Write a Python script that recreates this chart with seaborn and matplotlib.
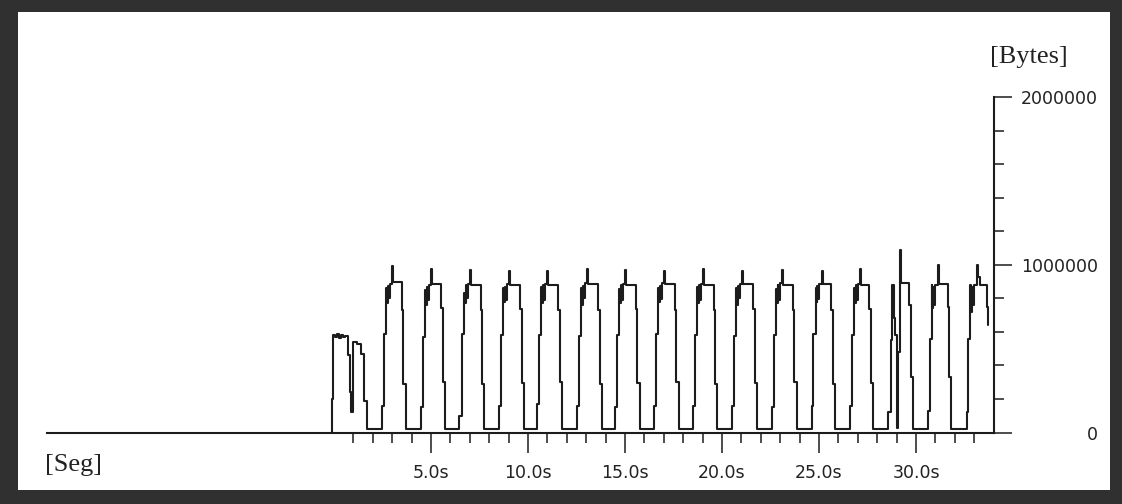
import numpy as np
import pandas as pd
import matplotlib
matplotlib.use("Agg")
import matplotlib.pyplot as plt
from matplotlib.patches import Rectangle
import seaborn as sns

# Step trace of transferred bytes over time (seconds, kilobytes)
t_sec = [
    # start-up burst
    -0.12, -0.10, -0.05, 0.05, 0.15, 0.25, 0.35, 0.45, 0.55, 0.72, 0.80, 0.84,
    0.88, 0.98, 1.20, 1.39, 1.54, 1.70,
    # periodic bursts
    2.47, 2.56, 2.68, 2.73, 2.77, 2.81, 2.87, 2.98, 3.03, 3.51, 3.57, 3.69,
    4.48, 4.57, 4.69, 4.74, 4.78, 4.82, 4.88, 4.99, 5.04, 5.52, 5.60, 5.72,
    6.45, 6.58, 6.70, 6.75, 6.79, 6.83, 6.89, 7.00, 7.05, 7.57, 7.63, 7.73,
    8.52, 8.61, 8.73, 8.78, 8.82, 8.86, 8.92, 9.03, 9.08, 9.60, 9.68, 9.80,
    10.46, 10.56, 10.67, 10.72, 10.76, 10.80, 10.86, 10.98, 11.03, 11.54, 11.64, 11.75,
    12.53, 12.62, 12.74, 12.79, 12.83, 12.87, 12.93, 13.04, 13.09, 13.61, 13.69, 13.81,
    14.48, 14.57, 14.69, 14.74, 14.78, 14.82, 14.88, 14.99, 15.04, 15.56, 15.64, 15.76,
    16.49, 16.58, 16.70, 16.75, 16.79, 16.83, 16.89, 17.00, 17.05, 17.57, 17.65, 17.77,
    18.50, 18.59, 18.71, 18.76, 18.80, 18.84, 18.90, 19.01, 19.06, 19.56, 19.64, 19.75,
    20.52, 20.61, 20.73, 20.78, 20.82, 20.86, 20.92, 21.03, 21.08, 21.60, 21.68, 21.80,
    22.57, 22.66, 22.78, 22.83, 22.87, 22.91, 22.97, 23.08, 23.13, 23.65, 23.73, 23.85,
    24.62, 24.71, 24.83, 24.88, 24.92, 24.96, 25.02, 25.13, 25.18, 25.64, 25.72, 25.83,
    26.60, 26.69, 26.81, 26.86, 26.90, 26.94, 27.00, 27.11, 27.16, 27.60, 27.68, 27.78,
    28.56, 28.71, 28.76, 28.86, 28.92, 29.02, 29.07, 29.17, 29.20, 29.23, 29.64, 29.74, 29.85,
    30.60, 30.70, 30.80, 30.84, 30.88, 30.93, 30.99, 31.12, 31.17, 31.63, 31.68, 31.78,
    32.63, 32.68, 32.78, 32.83, 32.88, 32.93, 32.99, 33.14, 33.19, 33.30, 33.66, 33.71,
]

load_kb = [
    0, 200, 580, 570, 585, 565, 580, 570, 578, 460, 340, 240,
    120, 540, 525, 470, 190, 20,
    160, 590, 860, 770, 875, 800, 885, 990, 895, 730, 290, 20,
    150, 570, 850, 760, 870, 790, 880, 975, 885, 740, 300, 20,
    100, 590, 830, 770, 880, 800, 885, 970, 880, 730, 290, 20,
    160, 580, 860, 780, 870, 790, 885, 965, 880, 735, 295, 20,
    170, 580, 870, 770, 880, 790, 885, 960, 880, 730, 300, 20,
    160, 575, 860, 760, 875, 800, 890, 975, 885, 730, 290, 20,
    150, 580, 855, 770, 880, 790, 885, 970, 880, 735, 295, 20,
    160, 585, 860, 775, 875, 795, 890, 960, 885, 730, 300, 20,
    155, 580, 865, 770, 880, 790, 885, 975, 880, 730, 290, 20,
    160, 575, 860, 760, 875, 800, 885, 965, 885, 735, 295, 20,
    150, 580, 855, 770, 880, 790, 890, 970, 880, 730, 300, 20,
    160, 585, 860, 775, 875, 795, 885, 965, 885, 730, 290, 20,
    155, 580, 860, 770, 880, 790, 885, 975, 880, 735, 295, 20,
    120, 550, 880, 680, 580, 25, 480, 1090, 970, 890, 760, 330, 20,
    130, 560, 880, 740, 870, 760, 880, 1000, 885, 750, 330, 20,
    120, 560, 880, 720, 870, 760, 880, 1000, 925, 880, 750, 640,
]

major_sec = [5, 10, 15, 20, 25, 30]
major_labels = ["5.0s", "10.0s", "15.0s", "20.0s", "25.0s", "30.0s"]
minor_sec = [s for s in range(1, 34) if s not in major_sec]

y_major = [0, 1000000, 2000000]
y_major_labels = ["0", "1000000", "2000000"]
y_minor = [200000, 400000, 600000, 800000, 1200000, 1400000, 1600000, 1800000]

df = pd.DataFrame({"t": t_sec, "bytes": np.array(load_kb) * 1000})

sns.set_style("white")
plt.rcParams["font.family"] = ["DejaVu Sans"]

W, H = 1122, 504
fig = plt.figure(figsize=(W / 100, H / 100), dpi=100)
fig.patch.set_facecolor("#303030")

# white panel inside the dark frame
panel = Rectangle((18 / W, 1 - 490 / H), (1110 - 18) / W, (490 - 12) / H,
                  transform=fig.transFigure, facecolor="white",
                  edgecolor="none", zorder=-10)
fig.patches.append(panel)

ax = fig.add_axes([47 / W, 1 - 432.5 / H, (994 - 47) / W, (432.5 - 97) / H])
ax.set_zorder(5)
ax.patch.set_visible(False)

ink = "#1c1c1c"
sns.lineplot(data=df, x="t", y="bytes", drawstyle="steps-post", estimator=None,
             sort=False, color=ink, linewidth=1.5, ax=ax)

ax.set_xlim(-14.8, 34.02)
ax.set_ylim(0, 2000000)

for side in ("left", "top"):
    ax.spines[side].set_visible(False)
for side in ("bottom", "right"):
    ax.spines[side].set_visible(True)
    ax.spines[side].set_color(ink)
    ax.spines[side].set_linewidth(1.5)

ax.set_xticks(major_sec)
ax.set_xticklabels(major_labels)
ax.set_xticks(minor_sec, minor=True)
ax.tick_params(axis="x", which="both", bottom=True, top=False)
ax.tick_params(axis="x", which="major", direction="out", length=14.4, width=1.1,
               color=ink, labelsize=12.5, labelcolor="#222222", pad=8)
ax.tick_params(axis="x", which="minor", direction="out", length=7.2, width=1.1,
               color=ink)

ax.yaxis.tick_right()
ax.set_yticks(y_major)
ax.set_yticklabels(y_major_labels)
ax.set_yticks(y_minor, minor=True)
ax.tick_params(axis="y", which="major", direction="out", length=13, width=1.1,
               color=ink, labelsize=12.5, labelcolor="#222222", pad=62,
               left=False, right=True, labelleft=False, labelright=True)
ax.tick_params(axis="y", which="minor", direction="out", length=7, width=1.1,
               color=ink, left=False, right=True)
plt.setp(ax.yaxis.get_majorticklabels(), ha="right")

ax.set_xlabel("")
ax.set_ylabel("")

fig.text(45 / W, 1 - 465 / H, "[Seg]", family="Liberation Serif", fontsize=19,
         color="#222222", ha="left", va="center")
fig.text(990 / W, 1 - 57 / H, "[Bytes]", family="Liberation Serif", fontsize=19,
         color="#222222", ha="left", va="center")

fig.savefig("out.png", dpi=100, facecolor=fig.get_facecolor())
